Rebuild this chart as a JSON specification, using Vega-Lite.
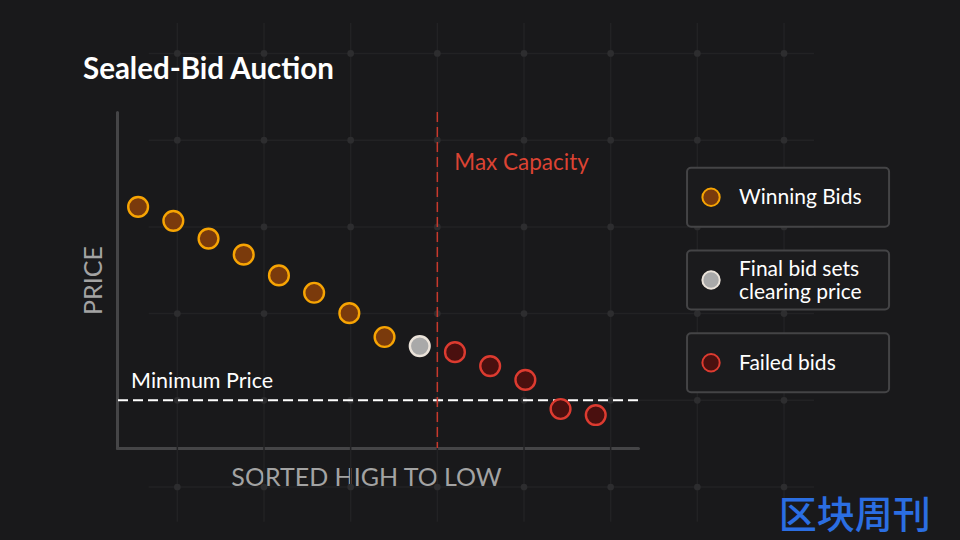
{
  "$schema": "https://vega.github.io/schema/vega-lite/v6.json",
  "width": 521,
  "height": 336,
  "autosize": {"type": "none"},
  "padding": {"left": 117, "top": 112, "right": 322, "bottom": 92},
  "background": "#19191b",
  "title": {"text": "Sealed-Bid Auction", "anchor": "start", "frame": "group", "dx": -34, "offset": -63, "fontSize": 29.5, "fontWeight": "bold", "color": "#ffffff", "font": "Lato"},
  "config": {
    "view": {"stroke": null},
    "font": "Lato",
    "axis": {"labels": false, "ticks": false, "grid": false, "domainColor": "#454547", "domainWidth": 3, "domainCap": "round", "titleColor": "#a3a3a3", "titleFontSize": 25, "titleFontWeight": "normal", "titleFont": "Lato"},
    "axisX": {"titlePadding": 17, "titleX": 249},
    "axisY": {"titlePadding": 11}
  },
  "datasets": {
    "bids": [
      {"rank": 1, "price": 104.6, "status": "Winning Bids"},
      {"rank": 2, "price": 101.4, "status": "Winning Bids"},
      {"rank": 3, "price": 97.3, "status": "Winning Bids"},
      {"rank": 4, "price": 93.6, "status": "Winning Bids"},
      {"rank": 5, "price": 88.8, "status": "Winning Bids"},
      {"rank": 6, "price": 84.8, "status": "Winning Bids"},
      {"rank": 7, "price": 80.1, "status": "Winning Bids"},
      {"rank": 8, "price": 74.6, "status": "Winning Bids"},
      {"rank": 9, "price": 72.5, "status": "Final bid sets clearing price"},
      {"rank": 10, "price": 71.1, "status": "Failed bids"},
      {"rank": 11, "price": 67.9, "status": "Failed bids"},
      {"rank": 12, "price": 64.7, "status": "Failed bids"},
      {"rank": 13, "price": 58.0, "status": "Failed bids"},
      {"rank": 14, "price": 56.6, "status": "Failed bids"}
    ],
    "legendItems": [
      {"status": "Winning Bids", "label": "Winning Bids", "lines": 1},
      {"status": "Final bid sets clearing price", "label": "Final bid sets\nclearing price", "lines": 2},
      {"status": "Failed bids", "label": "Failed bids", "lines": 1}
    ],
    "minPrice": [{"label": "Minimum Price", "price": 60}],
    "capacity": [{"label": "Max Capacity", "rank": 9.5}],
    "gridH": [{"price": 40}, {"price": 60}, {"price": 80}, {"price": 100}, {"price": 120}, {"price": 140}],
    "gridV": [
      {"rank": 2.114, "prices": [40, 60, 80, 100, 120, 140]},
      {"rank": 4.576, "prices": [40, 60, 80, 100, 120, 140]},
      {"rank": 7.038, "prices": [40, 60, 80, 100, 120, 140]},
      {"rank": 9.5, "prices": [40, 60, 80, 100, 120, 140]},
      {"rank": 11.962, "prices": [40, 60, 80, 100, 120, 140]},
      {"rank": 14.424, "prices": [40, 60, 80, 100, 120, 140]},
      {"rank": 16.886, "prices": [40, 60, 80, 100, 120, 140]},
      {"rank": 19.348, "prices": [40, 60, 80, 100, 120, 140]}
    ],
    "watermark": [{"label": "区块周刊"}]
  },
  "layer": [
    {
      "layer": [
        {
          "data": {"name": "gridH"},
          "mark": {"type": "rule", "stroke": "#222224", "strokeWidth": 1.5, "clip": false},
          "encoding": {
            "y": {"field": "price", "type": "quantitative", "title": "PRICE", "scale": {"domain": [49, 126.5], "zero": false, "nice": false}},
            "x": {"datum": 1.3, "type": "quantitative", "title": "SORTED HIGH TO LOW", "scale": {"domain": [0.4, 15.2], "zero": false, "nice": false}},
            "x2": {"datum": 20.2, "title": "SORTED HIGH TO LOW"}
          }
        },
        {
          "data": {"name": "gridV"},
          "mark": {"type": "rule", "stroke": "#222224", "strokeWidth": 1.5, "clip": false},
          "encoding": {
            "x": {"field": "rank", "type": "quantitative", "title": "SORTED HIGH TO LOW"},
            "y": {"datum": 147, "type": "quantitative", "title": "PRICE"},
            "y2": {"datum": 32, "title": "PRICE"}
          }
        },
        {
          "data": {"name": "gridV"},
          "transform": [{"flatten": ["prices"], "as": ["gridPrice"]}],
          "mark": {"type": "point", "filled": true, "fill": "#2d2d2f", "opacity": 1, "size": 45, "strokeWidth": 0, "clip": false},
          "encoding": {
            "x": {"field": "rank", "type": "quantitative", "title": "SORTED HIGH TO LOW"},
            "y": {"field": "gridPrice", "type": "quantitative", "title": "PRICE"}
          }
        },
        {
          "data": {"name": "minPrice"},
          "mark": {"type": "rule", "stroke": "#ffffff", "strokeWidth": 2, "strokeDash": [10, 5]},
          "encoding": {
            "y": {"field": "price", "type": "quantitative", "title": "PRICE"}
          }
        },
        {
          "data": {"name": "minPrice"},
          "mark": {"type": "text", "color": "#ffffff", "fontSize": 21.5, "align": "left", "baseline": "alphabetic", "dy": -12, "font": "Lato"},
          "encoding": {
            "y": {"field": "price", "type": "quantitative", "title": "PRICE"},
            "x": {"datum": 0.8, "type": "quantitative", "title": "SORTED HIGH TO LOW"},
            "text": {"field": "label"}
          }
        },
        {
          "data": {"name": "capacity"},
          "mark": {"type": "rule", "stroke": "#c8392c", "strokeWidth": 1.5, "strokeDash": [10, 5]},
          "encoding": {
            "x": {"field": "rank", "type": "quantitative", "title": "SORTED HIGH TO LOW"}
          }
        },
        {
          "data": {"name": "capacity"},
          "mark": {"type": "text", "color": "#dc4333", "fontSize": 22.5, "align": "left", "baseline": "middle", "dx": 17, "font": "Lato"},
          "encoding": {
            "x": {"field": "rank", "type": "quantitative", "title": "SORTED HIGH TO LOW"},
            "y": {"datum": 114.7, "type": "quantitative", "title": "PRICE"},
            "text": {"field": "label"}
          }
        },
        {
          "data": {"name": "bids"},
          "mark": {"type": "point", "filled": false, "size": 390, "strokeWidth": 2.4, "opacity": 1, "fillOpacity": 1, "strokeOpacity": 1},
          "encoding": {
            "x": {"field": "rank", "type": "quantitative", "title": "SORTED HIGH TO LOW"},
            "y": {"field": "price", "type": "quantitative", "title": "PRICE"},
            "fill": {"field": "status", "type": "nominal", "legend": null, "scale": {"domain": ["Winning Bids", "Final bid sets clearing price", "Failed bids"], "range": ["#7a3a0c", "#a9a9a9", "#4a100f"]}},
            "stroke": {"field": "status", "type": "nominal", "legend": null, "scale": {"domain": ["Winning Bids", "Final bid sets clearing price", "Failed bids"], "range": ["#f7a403", "#ebe3da", "#dd3b30"]}}
          }
        },
        {
          "data": {"name": "watermark"},
          "mark": {"type": "text", "color": "#2b6ee2", "fontSize": 38, "fontWeight": 500, "align": "left", "baseline": "middle", "font": "Noto Sans CJK SC", "clip": false},
          "encoding": {
            "x": {"datum": 19.2, "type": "quantitative", "title": "SORTED HIGH TO LOW"},
            "y": {"datum": 33.1, "type": "quantitative", "title": "PRICE"},
            "text": {"field": "label"}
          }
        }
      ]
    },
    {
      "data": {"name": "legendItems"},
      "layer": [
        {
          "mark": {"type": "rect", "fill": "#1b1b1d", "stroke": "#444446", "strokeWidth": 2, "cornerRadius": 4, "clip": false},
          "encoding": {
            "y": {"field": "status", "type": "nominal", "axis": null, "sort": null, "scale": {"type": "band", "domain": ["Winning Bids", "Final bid sets clearing price", "Failed bids"], "paddingInner": 0.289, "paddingOuter": 0.675}},
            "x": {"datum": 16.593, "type": "quantitative", "title": "SORTED HIGH TO LOW"},
            "x2": {"datum": 22.332, "title": "SORTED HIGH TO LOW"}
          }
        },
        {
          "mark": {"type": "point", "filled": false, "size": 300, "strokeWidth": 2, "opacity": 1, "fillOpacity": 1, "clip": false, "dy": 1},
          "encoding": {
            "y": {"field": "status", "type": "nominal", "axis": null, "sort": null},
            "x": {"datum": 17.275, "type": "quantitative", "title": "SORTED HIGH TO LOW"},
            "fill": {"field": "status", "type": "nominal", "legend": null},
            "stroke": {"field": "status", "type": "nominal", "legend": null}
          }
        },
        {
          "mark": {"type": "text", "color": "#ffffff", "fontSize": 21, "align": "left", "baseline": "middle", "lineBreak": "\n", "lineHeight": 23, "font": "Lato", "clip": false, "dy": {"expr": "(datum.lines - 1) * -11.5 + 1"}},
          "encoding": {
            "y": {"field": "status", "type": "nominal", "axis": null, "sort": null},
            "x": {"datum": 18.07, "type": "quantitative", "title": "SORTED HIGH TO LOW"},
            "text": {"field": "label"}
          }
        }
      ]
    }
  ],
  "resolve": {"scale": {"y": "independent"}}
}
